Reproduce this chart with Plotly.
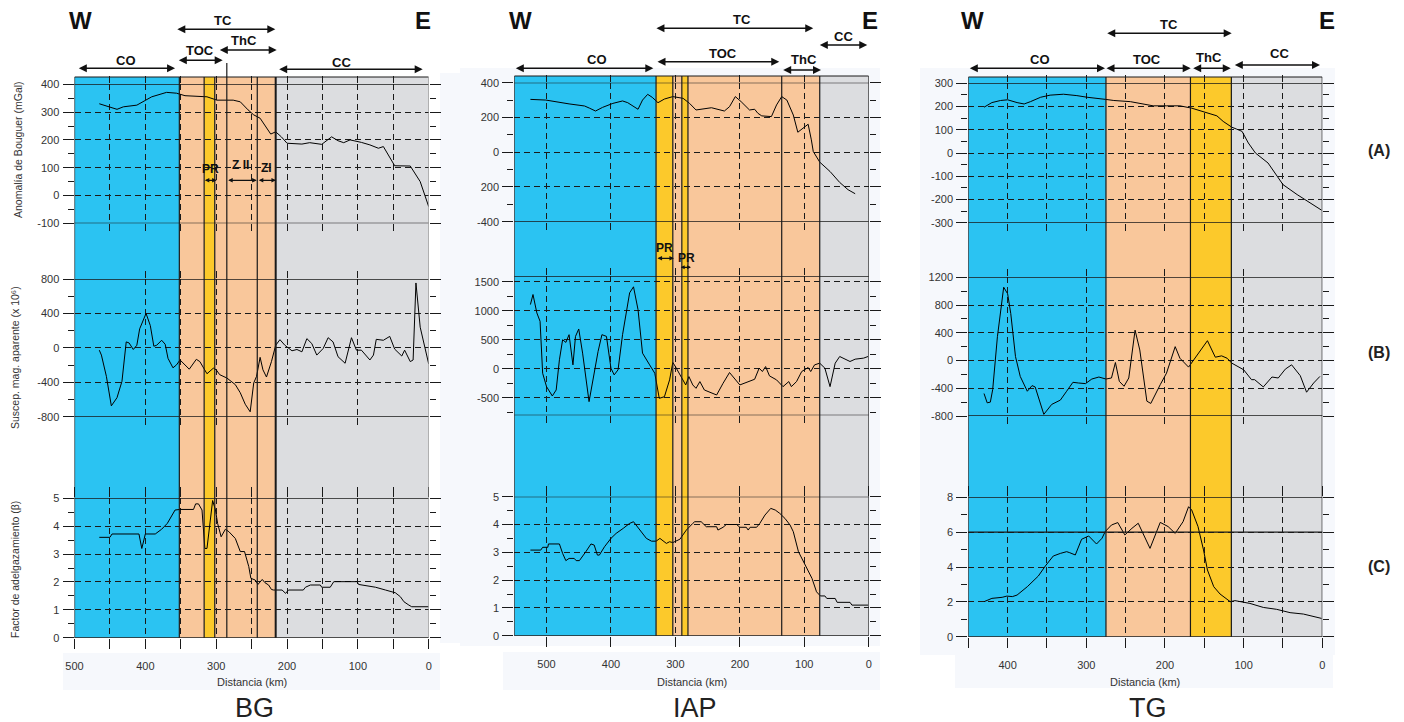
import plotly.graph_objects as go

W, H = 1404, 722

# ------------------------------------------------------------------ data
# BG profile
bg_grav_km = [465, 440, 431, 412, 391, 370, 356, 344, 313, 299, 276, 266, 255, 247, 238, 229, 223, 216, 208, 200,
              179, 168, 151, 137, 128, 120, 111, 95, 83, 71, 64, 48, 26, 12, 0]
bg_grav = [330, 310, 319, 325, 355, 371, 368, 359, 355, 343, 343, 337, 308, 290, 278, 242, 221, 229, 211, 188,
           185, 190, 184, 211, 197, 190, 200, 191, 182, 170, 176, 107, 106, 50, -40]

bg_mag_km = [465, 462, 455, 448, 440, 433, 427, 423, 417, 412, 408, 399, 393, 388, 384, 377, 372, 368, 361, 356,
             351, 344, 338, 328, 323, 313, 304, 300, 295, 285, 273, 266, 259, 252, 247, 243, 238, 234, 229, 222,
             216, 210, 203, 193, 186, 179, 172, 165, 158, 149, 142, 135, 128, 118, 109, 102, 95, 83, 78, 74,
             64, 55, 48, 38, 34, 26, 22, 18, 12, 0]
bg_mag = [-27, -84, -331, -674, -579, -389, 69, 57, -19, 30, 221, 400, 259, 19, 30, 88, 42, -122, -232, -198,
          -141, -198, -248, -133, -160, -301, -236, -255, -312, -350, -427, -522, -655, -743, -408, -331, -110, -255, -339, -160,
          30, 95, 30, -34, -19, -46, 107, 50, -84, -8, 118, 69, -103, -179, 118, -27, -27, -141, -84, 99,
          88, 133, -15, -95, -27, -160, -141, 754, 240, -187]

bg_beta_km = [465, 454, 450, 447, 438, 409, 405, 400, 386, 377, 369, 358, 351, 332, 329, 325, 320, 316, 313, 308,
              305, 301, 298, 293, 287, 282, 273, 266, 260, 254, 251, 245, 241, 235, 231, 226, 222, 219, 207, 202,
              198, 177, 174, 167, 153, 151, 139, 134, 101, 99, 75, 61, 47, 40, 35, 28, 24, 0]
bg_beta = [3.6, 3.6, 3.6, 3.72, 3.72, 3.72, 3.2, 3.72, 3.72, 3.89, 4.1, 4.58, 4.6, 4.6, 4.8, 4.8, 4.58, 3.2, 3.2, 4.22,
           4.92, 4.58, 4.1, 3.62, 3.89, 3.8, 3.56, 3.09, 3.09, 2.55, 2.13, 2.07, 1.91, 2.09, 1.97, 1.89, 1.73, 1.71, 1.71, 1.59,
           1.71, 1.71, 1.81, 1.89, 1.89, 1.81, 1.81, 2.01, 2.01, 1.91, 1.81, 1.71, 1.61, 1.47, 1.29, 1.17, 1.11, 1.11]

# IAP profile
iap_grav_km = [525, 501, 465, 441, 433, 424, 413, 397, 382, 374, 358, 351, 343, 336, 327, 317, 304, 288, 278, 268,
               244, 224, 216, 207, 198, 185, 177, 172, 166, 151, 143, 135, 127, 117, 110, 102, 94, 89, 86, 76,
               60, 45, 32, 21]
iap_grav = [304, 300, 278, 266, 253, 237, 258, 281, 295, 285, 247, 300, 333, 316, 285, 306, 320, 310, 281, 243,
            256, 237, 262, 320, 291, 243, 247, 224, 209, 205, 272, 320, 300, 214, 115, 138, 161, 71, 4, -57,
            -111, -174, -216, -239]

iap_mag_km = [525, 521, 515, 510, 506, 500, 491, 485, 480, 475, 470, 465, 459, 455, 450, 444, 434, 428, 420, 414,
              407, 400, 395, 389, 382, 371, 365, 358, 351, 340, 332, 325, 317, 309, 304, 300, 291, 284, 279, 273,
              268, 262, 255, 236, 226, 216, 200, 182, 177, 170, 165, 160, 154, 143, 133, 124, 120, 112, 104, 94,
              90, 84, 76, 68, 60, 52, 45, 29, 21, 8, 1]
iap_mag = [1108, 1281, 964, 819, -75, -306, -467, -364, 156, 502, 456, 589, 69, 560, 687, 271, -565, -190, 300, 589,
           560, 12, -104, -17, 589, 1310, 1414, 1021, 271, 69, -75, -508, -479, -190, 110, 40, -133, -277, -133, -277,
           -335, -219, -364, -450, -248, -63, -277, -190, -179, 12, -46, 40, -121, -190, -306, -219, -306, -219, -46, 23,
           -46, 69, 98, 12, -306, 98, 213, 127, 167, 185, 213]

iap_beta_km = [525, 509, 506, 498, 497, 480, 475, 470, 465, 457, 454, 449, 439, 431, 426, 421, 418, 410, 400, 392,
               381, 371, 365, 353, 345, 337, 330, 324, 314, 309, 304, 293, 283, 273, 270, 260, 252, 236, 234, 226,
               221, 205, 200, 190, 187, 184, 174, 169, 161, 152, 145, 138, 130, 122, 117, 109, 99, 88, 81, 75,
               68, 65, 52, 49, 29, 26, 1]
iap_beta = [3.08, 3.08, 3.18, 3.18, 3.3, 3.3, 2.96, 2.7, 2.78, 2.78, 2.7, 2.7, 3.02, 3.3, 3.26, 2.9, 2.9, 3.2, 3.5, 3.68,
            3.86, 4.04, 4.1, 3.74, 3.5, 3.4, 3.4, 3.5, 3.32, 3.38, 3.35, 3.47, 3.8, 4.04, 4.1, 4.1, 3.92, 3.92, 3.8, 3.9,
            4.0, 4.0, 3.9, 3.9, 3.8, 3.9, 3.9, 4.04, 4.34, 4.58, 4.52, 4.4, 4.22, 3.98, 3.74, 3.02, 2.54, 2.06, 1.58, 1.43,
            1.43, 1.34, 1.34, 1.2, 1.2, 1.1, 1.1]

# TG profile
tg_grav_km = [430, 420, 409, 400, 388, 379, 371, 358, 346, 329, 312, 299, 276, 265, 244, 215, 198, 181, 166, 151,
              134, 126, 115, 109, 102, 94, 85, 69, 58, 50, 32, 16, 1]
tg_grav = [197, 217, 226, 229, 217, 211, 221, 240, 249, 253, 247, 240, 231, 226, 221, 203, 203, 203, 193, 179,
           160, 136, 111, 103, 93, 43, 0, -43, -100, -136, -179, -214, -246]

tg_mag_km = [430, 426, 422, 419, 413, 405, 400, 396, 390, 384, 375, 369, 365, 359, 354, 344, 333, 325, 317, 310,
             301, 293, 284, 275, 268, 263, 258, 252, 246, 238, 232, 223, 218, 206, 198, 187, 181, 170, 158, 146,
             136, 128, 121, 115, 100, 90, 86, 75, 64, 56, 47, 39, 28, 20, 11, 3]
tg_mag = [-476, -610, -600, -419, 343, 1057, 962, 676, 57, -229, -443, -362, -381, -610, -776, -633, -571, -443, -314, -324,
          -333, -267, -238, -267, -252, -29, -300, -371, -252, 438, 152, -586, -619, -348, -181, 200, 33, -95, 105, 286,
          48, 67, 33, -38, -133, -276, -276, -381, -238, -252, -124, -62, -219, -457, -324, -229]

tg_beta_km = [430, 420, 407, 401, 394, 388, 375, 361, 352, 342, 333, 325, 321, 314, 306, 297, 287, 280, 276, 268,
              260, 251, 242, 234, 219, 206, 196, 187, 177, 170, 166, 158, 151, 146, 138, 130, 117, 111, 92, 75,
              58, 41, 24, 1]
tg_beta = [2.01, 2.2, 2.26, 2.33, 2.3, 2.39, 2.87, 3.48, 4.06, 4.63, 4.78, 4.88, 4.82, 4.69, 5.59, 5.78, 5.32, 5.65, 6.03, 6.41,
           6.55, 5.84, 6.22, 6.51, 5.07, 6.56, 6.32, 5.93, 6.6, 7.46, 7.27, 6.32, 4.98, 3.83, 2.87, 2.45, 2.01, 2.07, 1.91, 1.68,
           1.57, 1.38, 1.3, 1.05]

# crustal domains (km from, km to, domain)
bg_zones = [(500, 352, "CO"), (352, 317, "TOC"), (317, 302, "PR"), (302, 216, "TOC"), (216, 0, "CC")]
iap_zones = [(550, 330, "CO"), (330, 304, "PR"), (304, 290, "TOC"), (290, 280.5, "PR"), (280.5, 76, "TOC"), (76, 0, "CC")]
tg_zones = [(450, 275, "CO"), (275, 167.6, "TOC"), (167.6, 115.6, "ThC"), (115.6, 0, "CC")]

bg_bounds = [500, 352, 317, 302, 285, 242, 216, 0]
iap_bounds = [550, 330, 304, 290, 280.5, 135, 76, 0]
tg_bounds = [450, 275, 167.6, 115.6, 0]

y_titles = ["Anomalía de Bouguer (mGal)", "Suscep. mag. aparente (x 10⁶)", "Factor de adelgazamiento (β)"]
profile_names = ["BG", "IAP", "TG"]

# ------------------------------------------------------------------ styles / layout
ZONE_COLORS = {"CO": "#2BC3F2", "TOC": "#F9C79B", "PR": "#FCC92B", "ThC": "#FCC92B", "CC": "#DCDDE0"}
INK = "#1a1a1a"
FONT = "Liberation Sans, Arial"
TICK_FONT = dict(family=FONT, size=11, color="#333")
DASH = "6px,4px"


def fx(px):
    return px / W


def fy(py):
    return 1 - py / H


cols = [
    dict(name="BG", xrange=[500, 0], xpx=(74.5, 428.7), rows=[(84.3, 223.3), (279.0, 416.7), (498.3, 637.7)],
         ztop=77, zbot=637.7, wpx=80, epx=423,
         data=[(bg_grav_km, bg_grav), (bg_mag_km, bg_mag), (bg_beta_km, bg_beta)],
         zones=bg_zones, bounds=bg_bounds,
         yspec=[
             dict(range=[-100, 400], tv=[400, 300, 200, 100, 0, -100], tt=None, minor=[350, 250, 150, 50, -50], solid=[400, -100]),
             dict(range=[-800, 800], tv=[800, 400, 0, -400, -800], tt=None, minor=[600, 200, -200, -600], solid=[800, -800]),
             dict(range=[0, 5], tv=[5, 4, 3, 2, 1, 0], tt=None, minor=[4.5, 3.5, 2.5, 1.5, 0.5], solid=[5, 0]),
         ],
         xgrid=[[450, 400, 350, 300, 250, 200, 150, 100, 50], [400, 350, 300, 200, 100],
                [500, 450, 400, 350, 300, 250, 200, 150, 100, 50, 0]],
         xlab=[500, 400, 300, 200, 100, 0]),
    dict(name="IAP", xrange=[550, 0], xpx=(514.3, 868.7), rows=[(82.7, 221.7), (276.0, 415.3), (496.7, 635.7)],
         ztop=76, zbot=635.7, wpx=520, epx=870,
         data=[(iap_grav_km, iap_grav), (iap_mag_km, iap_mag), (iap_beta_km, iap_beta)],
         zones=iap_zones, bounds=iap_bounds,
         yspec=[
             dict(range=[-400, 400], tv=[400, 200, 0, -200, -400], tt=["400", "200", "0", "200", "-400"],
                  minor=[300, 100, -100, -300], solid=[400, -400]),
             dict(range=[-800, 1600], tv=[1500, 1000, 500, 0, -500], tt=None, minor=[1250, 750, 250, -250, -750],
                  solid=[1600, -800]),
             dict(range=[0, 5], tv=[5, 4, 3, 2, 1, 0], tt=None, minor=[4.5, 3.5, 2.5, 1.5, 0.5], solid=[5, 0]),
         ],
         xgrid=[[500, 400, 300, 200, 100], [500, 400, 300, 200, 100], [500, 400, 300, 200, 100, 0]],
         xlab=[500, 400, 300, 200, 100, 0]),
    dict(name="TG", xrange=[450, 0], xpx=(968.3, 1322.3), rows=[(83.3, 222.7), (277.3, 416.0), (497.3, 636.7)],
         ztop=77, zbot=636.7, wpx=972.7, epx=1327.3,
         data=[(tg_grav_km, tg_grav), (tg_mag_km, tg_mag), (tg_beta_km, tg_beta)],
         zones=tg_zones, bounds=tg_bounds,
         yspec=[
             dict(range=[-300, 300], tv=[300, 200, 100, 0, -100, -200, -300], tt=None,
                  minor=[250, 150, 50, -50, -150, -250], solid=[300, -300]),
             dict(range=[-800, 1200], tv=[1200, 800, 400, 0, -400, -800], tt=None,
                  minor=[1000, 600, 200, -200, -600], solid=[1200, -800]),
             dict(range=[0, 8], tv=[8, 6, 4, 2, 0], tt=None, minor=[7, 5, 3, 1], solid=[8, 6, 0]),
         ],
         xgrid=[[400, 350, 300, 250, 200, 150, 100, 50], [400, 300, 200, 100],
                [450, 400, 350, 300, 250, 200, 150, 100, 50, 0]],
         xlab=[400, 300, 200, 100, 0]),
]

fig = go.Figure()
layout = dict(width=W, height=H, autosize=False,
              margin=dict(l=0, r=0, t=0, b=0, pad=0, autoexpand=False), paper_bgcolor="white",
              plot_bgcolor="rgba(0,0,0,0)", showlegend=False)
shapes = []
annotations = []

# faint backdrop panels
for (x0, x1, y0, y1) in [(440, 460, 73, 643), (63, 440, 653, 690), (460, 880, 68, 646), (503, 880, 652, 690),
                         (920, 1335, 68, 655), (955, 1333, 655, 688)]:
    shapes.append(dict(type="rect", xref="paper", yref="paper", x0=fx(x0), x1=fx(x1), y0=fy(y1), y1=fy(y0),
                       fillcolor="#F6F8FC", line=dict(width=0), layer="below"))

for c, col in enumerate(cols):
    xa_names = []
    for r in range(3):
        idx = c * 3 + r + 1
        xn = "x" if idx == 1 else f"x{idx}"
        yn = "y" if idx == 1 else f"y{idx}"
        xa_names.append(xn)
        km, val = col["data"][r]
        fig.add_trace(go.Scatter(x=km, y=val, xaxis=xn, yaxis=yn, mode="lines",
                                 line=dict(color="black", width=1), hoverinfo="skip"))
        top, bot = col["rows"][r]
        ys = col["yspec"][r]
        grid = col["xgrid"][r]
        is_bottom = (r == 2)
        if is_bottom:
            ticktext = [str(v) if v in col["xlab"] else "" for v in grid]
        else:
            ticktext = ["" for _ in grid]
        layout["xaxis" if idx == 1 else f"xaxis{idx}"] = dict(
            domain=[fx(col["xpx"][0]), fx(col["xpx"][1])], range=col["xrange"], anchor=yn,
            tickmode="array", tickvals=grid, ticktext=ticktext, showticklabels=is_bottom,
            ticks="outside", ticklen=10 if is_bottom else 7, tickcolor=INK, tickwidth=1,
            mirror="ticks", showline=False, zeroline=False, automargin=False,
            showgrid=True, gridcolor=INK, griddash=DASH, gridwidth=1,
            tickfont=TICK_FONT, ticklabelstandoff=8, fixedrange=True)
        layout["yaxis" if idx == 1 else f"yaxis{idx}"] = dict(
            domain=[fy(bot), fy(top)], range=ys["range"], anchor=xn,
            tickmode="array", tickvals=ys["tv"], ticktext=ys["tt"] if ys["tt"] else [str(v) for v in ys["tv"]],
            ticks="outside", ticklen=11, tickcolor=INK, tickwidth=1.2, mirror="ticks",
            minor=dict(tickmode="array", tickvals=ys["minor"], ticks="outside", ticklen=6, tickcolor=INK, showgrid=False),
            showline=False, zeroline=False, showgrid=True, gridcolor=INK, griddash=DASH, gridwidth=1,
            automargin=False, tickfont=TICK_FONT, ticklabelstandoff=1, fixedrange=True)
        for v in ys["solid"]:
            shapes.append(dict(type="line", xref=f"{xn} domain", yref=yn, x0=0, x1=1, y0=v, y1=v,
                               line=dict(color=INK, width=1.3), layer="above"))

    xref = xa_names[2]
    # coloured domains spanning all three panels
    for (k0, k1, zname) in col["zones"]:
        shapes.append(dict(type="rect", xref=xref, yref="paper", x0=k0, x1=k1, y0=fy(col["zbot"]), y1=fy(col["ztop"]),
                           fillcolor=ZONE_COLORS[zname], line=dict(width=0), layer="below"))
    # top edge of the domains
    shapes.append(dict(type="line", xref=xref, yref="paper", x0=col["xrange"][0], x1=0,
                       y0=fy(col["ztop"]), y1=fy(col["ztop"]), line=dict(color=INK, width=1), layer="above"))
    for k in col["bounds"]:
        wdt = 2 if (c == 0 and k == 216) else 1.2
        colr = "#8a8a8a" if (c == 0 and k == 0) else INK
        ytop = 63 if (c == 0 and k == 285) else col["ztop"]
        shapes.append(dict(type="line", xref=xref, yref="paper", x0=k, x1=k, y0=fy(col["zbot"]), y1=fy(ytop),
                           line=dict(color=colr, width=wdt), layer="above"))

    # W / E orientation letters
    for letter, xp in (("W", col["wpx"]), ("E", col["epx"])):
        annotations.append(dict(text=f"<b>{letter}</b>", x=fx(xp), y=fy(20.7), xref="paper", yref="paper",
                                xanchor="center", yanchor="middle", showarrow=False,
                                font=dict(family=FONT, size=24, color="#111")))

    # axis caption and profile name
    xc = (col["xpx"][0] + col["xpx"][1]) / 2
    annotations.append(dict(text="Distancia (km)", x=fx(xc), y=fy(682), xref="paper", yref="paper",
                            xanchor="center", yanchor="middle",
                            showarrow=False, font=dict(family=FONT, size=11, color="#333")))
    annotations.append(dict(text=col["name"], x=fx(xc + 3), y=fy(708), xref="paper", yref="paper",
                            xanchor="center", yanchor="middle",
                            showarrow=False, font=dict(family=FONT, size=27, color="#222")))


def label(xa, km, ypx, text, size=13):
    return dict(text=f"<b>{text}</b>", x=km, y=fy(ypx), xref=xa, yref="paper", showarrow=False,
                xanchor="center", yanchor="middle",
                font=dict(family=FONT, size=size, color="#111"))


def arrow(xa, k0, k1, ypx, size=1.0, width=1.6):
    return dict(text="", x=k1, y=fy(ypx), xref=xa, yref="paper", ax=k0, ay=0, axref=xa, ayref="pixel",
                showarrow=True, arrowhead=2, startarrowhead=2, arrowside="end+start", arrowsize=size,
                startarrowsize=size, arrowwidth=width, arrowcolor="#111", standoff=0, startstandoff=0)


# BG headers (xaxis3)
xa = "x3"
annotations += [
    label(xa, 290.8, 20.7, "TC"), arrow(xa, 357, 216.5, 29.3),
    label(xa, 260.3, 40.7, "ThC"), arrow(xa, 297, 214.6, 50),
    label(xa, 322.8, 50.7, "TOC"), arrow(xa, 354.9, 290.8, 60.3),
    label(xa, 427.3, 61, "CO"), arrow(xa, 496, 358, 68.3),
    label(xa, 123.8, 62.3, "CC"), arrow(xa, 213.2, 8.5, 69.3),
    label(xa, 307.7, 169.3, "PR", 12), arrow(xa, 318.2, 299.3, 180.3, 0.7, 1.3),
    label(xa, 265.4, 165, "Z II", 12), arrow(xa, 285.2, 242.8, 180.3, 0.7, 1.3),
    label(xa, 228.7, 168.3, "ZI", 12), arrow(xa, 242, 215.6, 180.3, 0.7, 1.3),
]
# IAP headers (xaxis6)
xa = "x6"
annotations += [
    label(xa, 197, 20, "TC"), arrow(xa, 331.7, 86, 28.3),
    label(xa, 39.4, 36.7, "CC"), arrow(xa, 78.2, 2.2, 45),
    label(xa, 226.6, 53.3, "TOC"), arrow(xa, 330.1, 138.8, 61.7),
    label(xa, 100, 60, "ThC"), arrow(xa, 135, 74, 70),
    label(xa, 421.2, 59.3, "CO"), arrow(xa, 550, 334.3, 68.3),
    label(xa, 317.2, 248.3, "PR", 12), arrow(xa, 330.1, 302.2, 258.3, 0.7, 1.3),
    label(xa, 282.5, 258.3, "PR", 12), arrow(xa, 294, 275.8, 267.3, 0.6, 1.3),
]
# TG headers (xaxis9)
xa = "x9"
annotations += [
    label(xa, 194.5, 24, "TC"), arrow(xa, 275.3, 115.2, 33.3),
    label(xa, 358.8, 59.3, "CO"), arrow(xa, 450, 276.2, 68.3),
    label(xa, 223.2, 60, "TOC"), arrow(xa, 276.2, 167.3, 68.3),
    label(xa, 143.6, 57.3, "ThC"), arrow(xa, 166, 116.4, 68.3),
    label(xa, 54.7, 54, "CC"), arrow(xa, 113.1, 2.9, 65),
]

# row letters
for txt, ypx in [("(A)", 150), ("(B)", 352.7), ("(C)", 566)]:
    annotations.append(dict(text=f"<b>{txt}</b>", x=fx(1379.3), y=fy(ypx), xref="paper", yref="paper",
                            xanchor="center", yanchor="middle", showarrow=False,
                            font=dict(family="Liberation Sans Narrow, Liberation Sans, Arial", size=16, color="#222")))

# y-axis titles (left column)
for txt, xpx, ypx in [(y_titles[0], 18, 150), (y_titles[1], 15, 358), (y_titles[2], 15, 570)]:
    annotations.append(dict(text=txt, x=fx(xpx), y=fy(ypx), xref="paper", yref="paper", textangle=-90,
                            xanchor="center", yanchor="middle",
                            showarrow=False, font=dict(family=FONT, size=10.5, color="#333")))

layout["shapes"] = shapes
layout["annotations"] = annotations
fig.update_layout(**layout)
fig.write_html("out.html", config={"displayModeBar": False},
               post_script="document.body.style.margin='0px';")
